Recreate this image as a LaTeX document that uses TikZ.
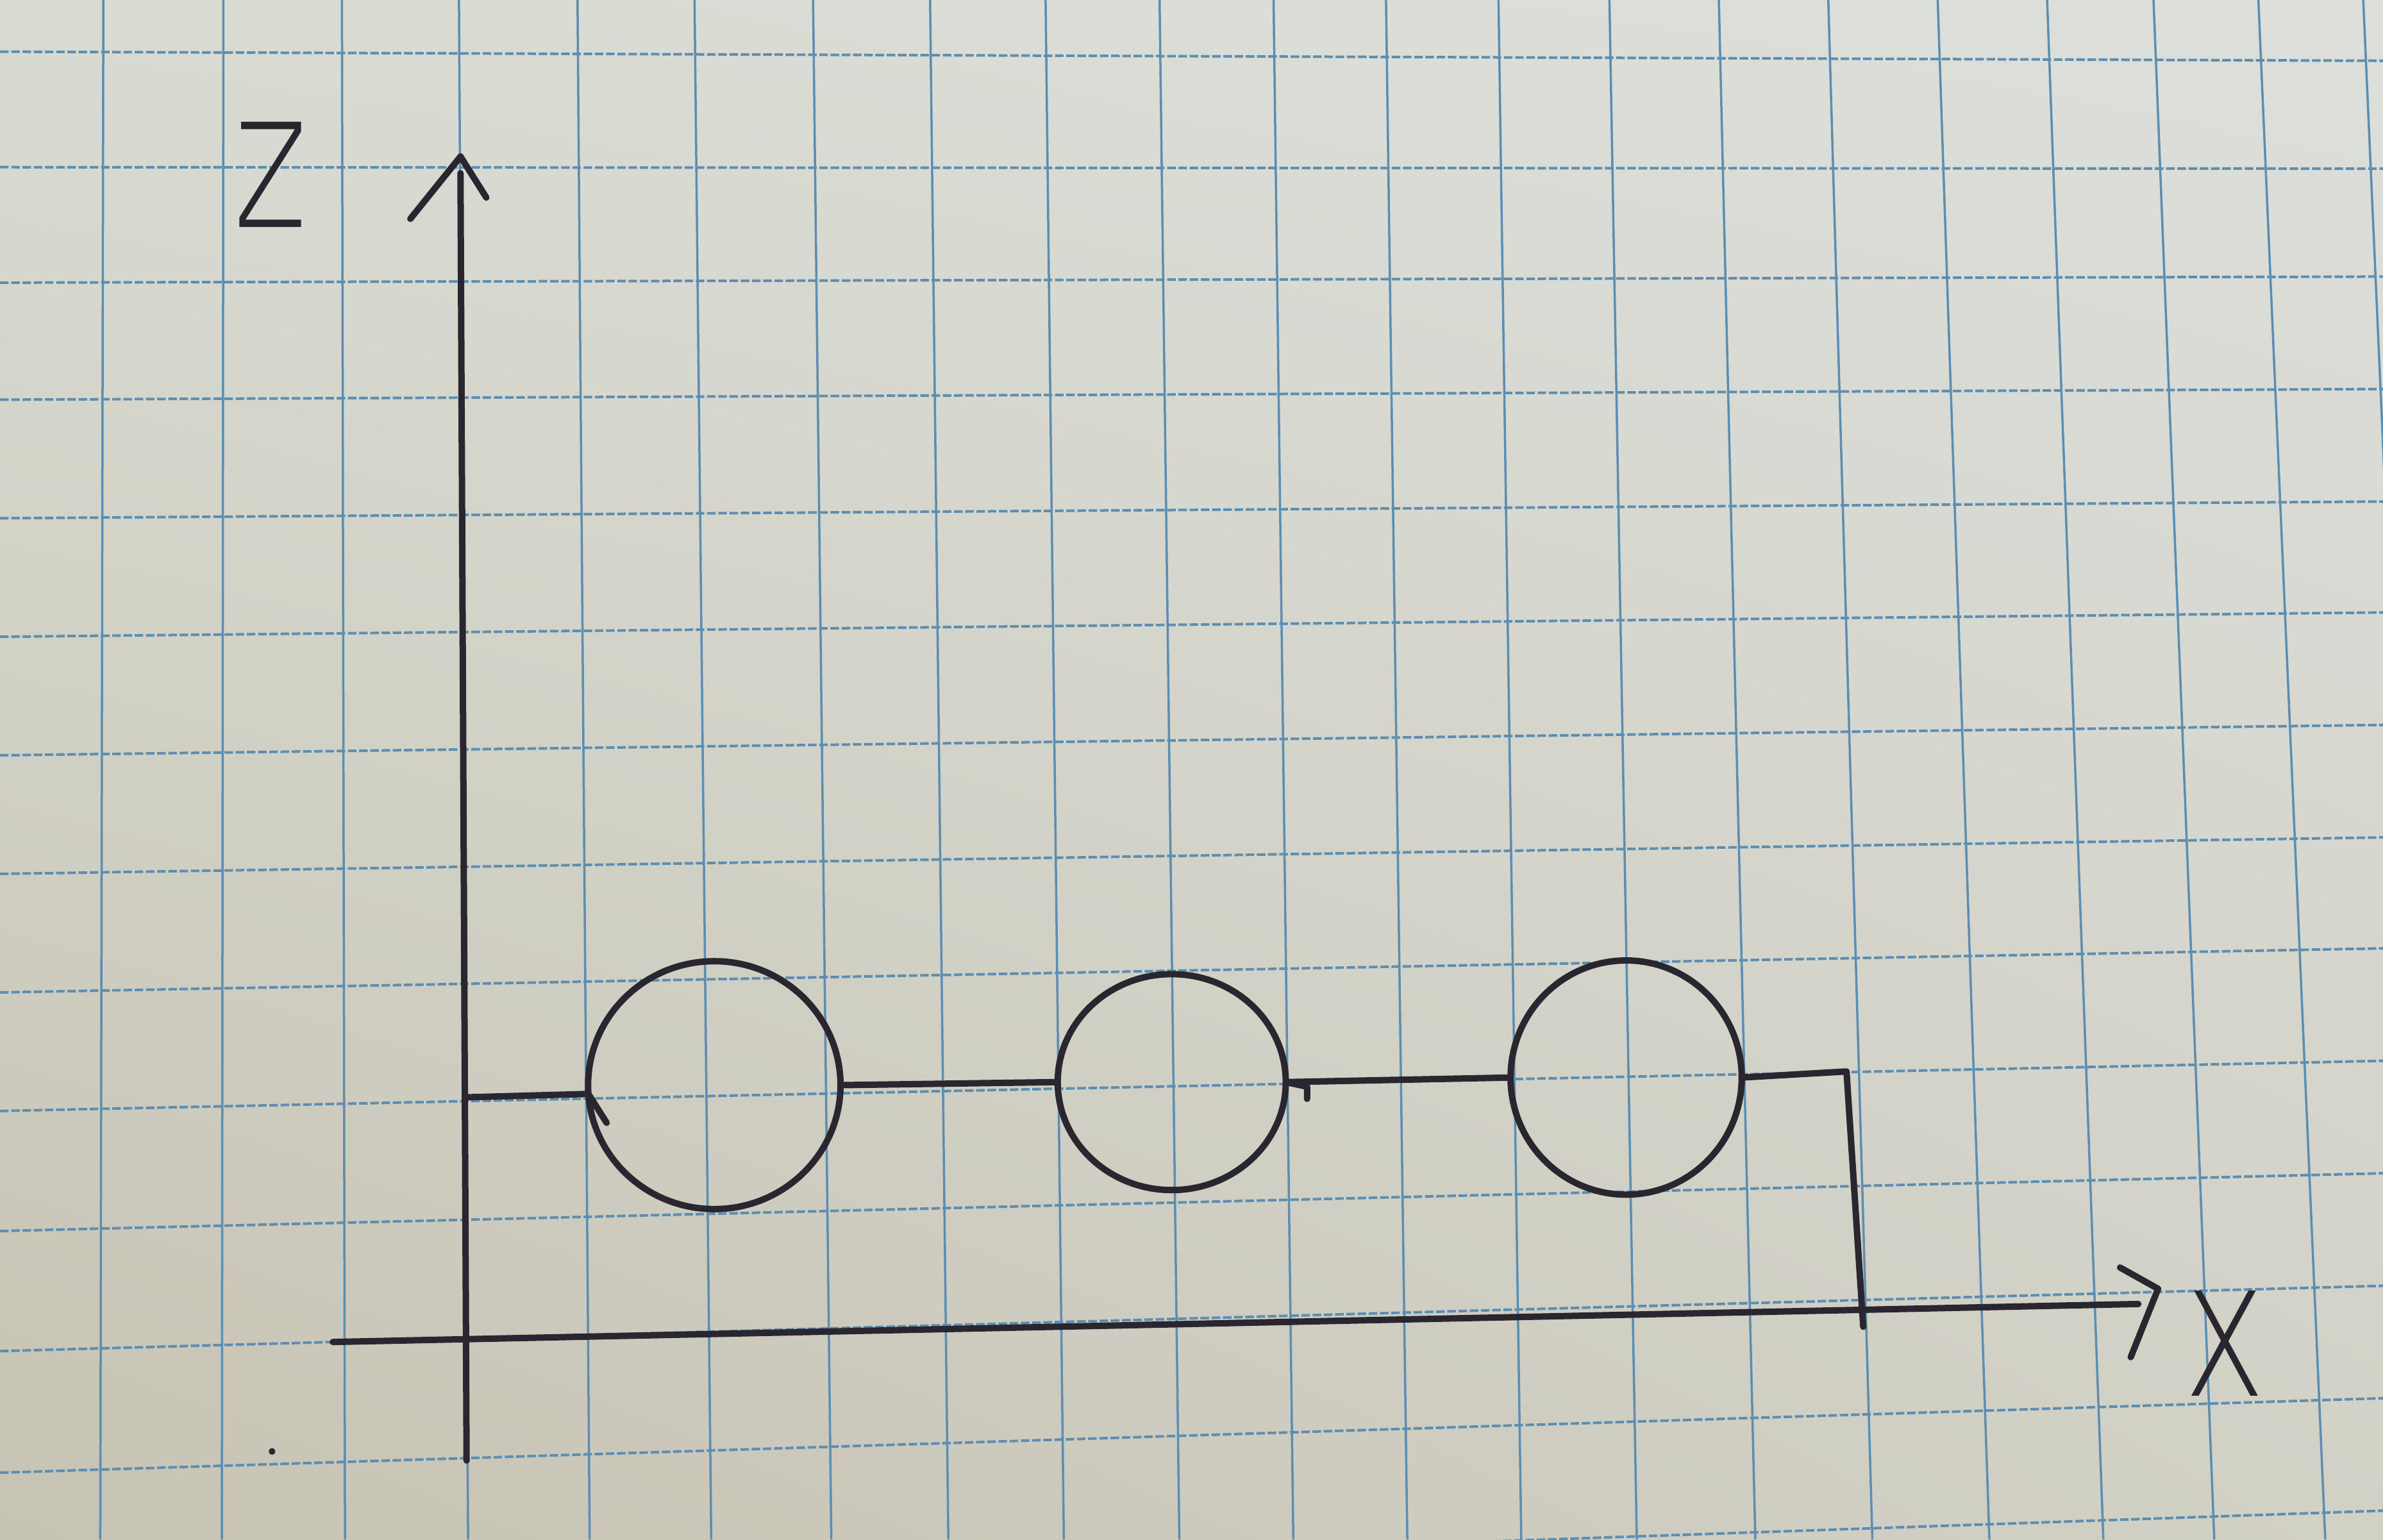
\documentclass[tikz,border=0pt]{standalone}
\usepackage{fontspec}
\usepackage{tikz}
\usetikzlibrary{shapes.geometric,shadings}
\newfontfamily\penfont{DejaVuSans-ExtraLight.ttf}
\definecolor{ink}{RGB}{42,38,48}
\definecolor{gridblue}{RGB}{92,142,178}
\definecolor{paperUL}{RGB}{217,219,210}
\definecolor{paperUR}{RGB}{221,223,219}
\definecolor{paperLL}{RGB}{199,195,180}
\definecolor{paperLR}{RGB}{210,209,198}
\tikzset{
  pen/.style={draw=ink, line width=1.2pt, line cap=round, line join=round},
  ring/.style={pen, ellipse, inner sep=0pt, outer sep=0pt},
  gridv/.style={draw=gridblue, line width=0.42pt},
  gridh/.style={draw=gridblue, line width=0.48pt, dash pattern=on 1.6pt off 0.5pt},
  axislabel/.style={text=ink, font=\penfont\fontsize{36}{36}\selectfont, inner sep=0pt}
}

\begin{document}
\begin{tikzpicture}[x=0.01cm, y=-0.01cm]
\useasboundingbox (0,0) rectangle (1568,1013);
\shade[upper left=paperUL, upper right=paperUR, lower left=paperLL, lower right=paperLR]
  (0,0) rectangle (1568,1013);
\begin{scope}
\clip (0,0) rectangle (1568,1013);
\foreach \t/\b in {68/66, 147/146, 225/227, 302/308, 380/388, 457/468, 535/547,
    612/624, 688/700, 763/776, 838/851, 912/926, 986/1001, 1059/1077, 1131/1155,
    1203/1232, 1275/1309, 1347/1384, 1417/1457, 1486/1530, 1555/1600} {
  \draw[gridv] (\t,0) -- (\b,1013);
}
\foreach \l/\r in {34/40, 110/111, 186/182, 263/256, 341/330, 419/403, 497/477,
    575/551, 653/624, 731/698, 810/772, 889/846, 969/920, 1048/994} {
  \draw[gridh] (0,\l) -- (1568,\r);
}
\end{scope}
\fill[ink] (179,955) circle (2.2);

\coordinate (zbot) at (307,961);
\coordinate (ztop) at (303,114);
\coordinate (ztip) at (303,103);
\coordinate (zarmL) at (270,144);
\coordinate (zarmR) at (320,130);
\draw[pen] (zbot) -- (ztop);
\draw[pen] (zarmL) -- (ztip) -- (zarmR);

\coordinate (xleft) at (219,883);
\coordinate (xright) at (1407,858);
\coordinate (xtip) at (1420,848);
\coordinate (xarmU) at (1395,834);
\coordinate (xarmD) at (1402,893);
\draw[pen] (xleft) -- (xright);
\draw[pen] (xarmU) -- (xtip) -- (xarmD);

\node[axislabel, xscale=0.73] (zlabel) at (178,115) {z};
\node[axislabel, xscale=0.72] (xlabel) at (1464,884) {x};

\node[ring, minimum width=1.66cm, minimum height=1.63cm] (c1) at (470,714) {};
\node[ring, minimum width=1.50cm, minimum height=1.42cm] (c2) at (771,712) {};
\node[ring, minimum width=1.52cm, minimum height=1.54cm] (c3) at (1070,709) {};

\coordinate (start) at (307,722);
\coordinate (corner) at (1215,705);
\coordinate (drop) at (1226,873);
\draw[pen] (start) -- (c1.184);
\draw[pen] (c1.east) -- (c2.west);
\draw[pen] (c2.east) -- (c3.west);
\draw[pen] (c3.east) -- (corner) -- (drop);
\draw[pen] (c1.184) -- ++(12,19);
\draw[pen] (c2.east) -- ++(14,3) -- ++(0,8);
\end{tikzpicture}
\end{document}
